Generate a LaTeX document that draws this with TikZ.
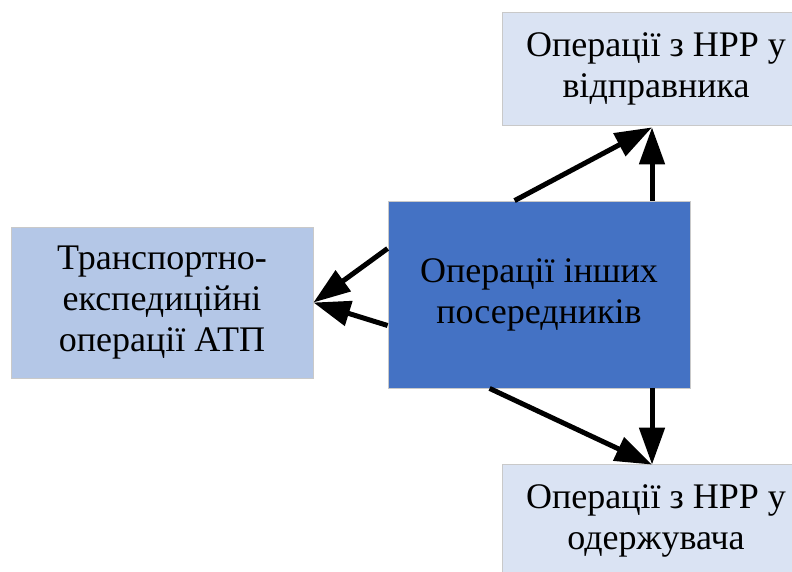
\documentclass[tikz,border=0pt]{standalone}
\usepackage{fontspec}
\setmainfont{Liberation Serif}
\usetikzlibrary{arrows.meta,calc}
\definecolor{boxlight}{HTML}{DAE3F3}
\definecolor{boxmid}{HTML}{B4C7E7}
\definecolor{boxdark}{HTML}{4472C4}
\definecolor{boxedge}{HTML}{C9C9C9}
\tikzset{
  opbox/.style={draw=boxedge, line width=0.8pt, rectangle, align=center,
    inner sep=0pt, font=\fontsize{36}{41}\selectfont, text=black},
  flow/.style={line width=5pt, -{Triangle[length=37pt,width=25pt]}}
}
\begin{document}
\begin{tikzpicture}[x=1pt,y=-1pt]
  \useasboundingbox (0,0) rectangle (792,571);
  \clip (0,0) rectangle (792,571);
  % boxes
  \node[opbox, fill=boxmid, minimum width=302pt, minimum height=151pt]
    (atp) at (162,302.5) {Транспортно-\\експедиційні\\операції АТП};
  \node[opbox, fill=boxdark, minimum width=302pt, minimum height=187pt]
    (mid) at (539,294.5) {Операції інших\\посередників};
  \node[opbox, fill=boxlight, minimum width=308pt, minimum height=113pt]
    (snd) at (656,68.5) {Операції з НРР у\\відправника};
  \node[opbox, fill=boxlight, minimum width=308pt, minimum height=113pt]
    (rcv) at (656,520.5) {Операції з НРР у\\одержувача};
  % tips of the arrows
  \coordinate (sndtip) at ([xshift=-4pt,yshift=-2pt]snd.south);
  \coordinate (rcvtip) at ([xshift=-4pt,yshift=-1pt]rcv.north);
  % connectors
  \draw[flow] ([yshift=-31pt]mid.west) -- (atp.east);
  \draw[flow] ([yshift=46pt]mid.west) -- (atp.east);
  \draw[flow] ([xshift=127pt]mid.north west) -- (sndtip);
  \draw[flow] (mid.north -| sndtip) -- (sndtip);
  \draw[flow] ([xshift=102pt]mid.south west) -- (rcvtip);
  \draw[flow] (mid.south -| rcvtip) -- (rcvtip);
\end{tikzpicture}
\end{document}
